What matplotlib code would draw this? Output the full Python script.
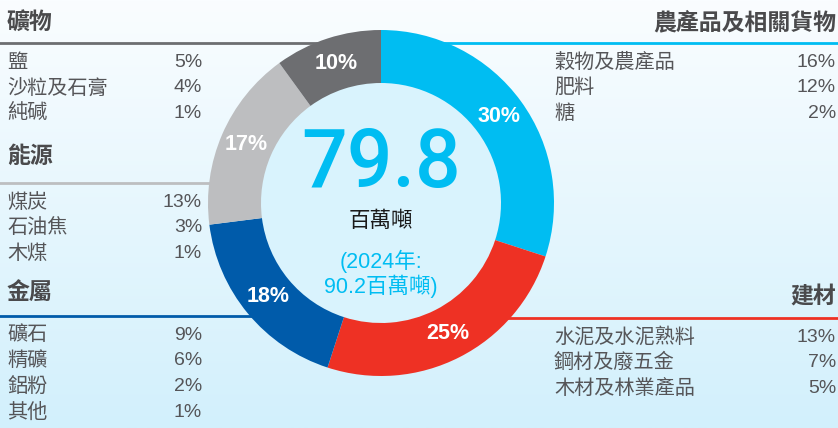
import numpy as np
import matplotlib.pyplot as plt
from matplotlib.colors import LinearSegmentedColormap
from matplotlib.patches import Circle

plt.rcParams['font.family'] = ['Noto Sans CJK TC', 'DejaVu Sans']

# donut data (clockwise from the top)
shares = [30, 25, 18, 17, 10]
share_labels = ['30%', '25%', '18%', '17%', '10%']
share_colors = ['#00BDF2', '#EE3124', '#005BAA', '#BDBEC0', '#6D6E71']

# category tables
left_groups = ['礦物', '能源', '金屬']
left_items = [['鹽', '沙粒及石膏', '純碱'],
              ['煤炭', '石油焦', '木煤'],
              ['礦石', '精礦', '鋁粉', '其他']]
left_pcts = [['5%', '4%', '1%'],
             ['13%', '3%', '1%'],
             ['9%', '6%', '2%', '1%']]
left_line_colors = ['#6D6E71', '#BDBEC0', '#005BAA']

right_groups = ['農產品及相關貨物', '建材']
right_items = [['穀物及農產品', '肥料', '糖'],
               ['水泥及水泥熟料', '鋼材及廢五金', '木材及林業產品']]
right_pcts = [['16%', '12%', '2%'],
              ['13%', '7%', '5%']]
right_line_colors = ['#00BDF2', '#EE3124']

total = '79.8'
unit = '百萬噸'
prev = '(2024年:\n90.2百萬噸)'

W, H = 838, 428
fig = plt.figure(figsize=(W / 100, H / 100), dpi=100)
ax = fig.add_axes([0, 0, 1, 1])
ax.set_xlim(0, W)
ax.set_ylim(H, 0)
ax.axis('off')

# background gradient
bg = LinearSegmentedColormap.from_list('bg', ['#FAFDFF', '#D2F0FC'])
grad = np.linspace(0, 1, 256).reshape(-1, 1)
ax.imshow(grad, cmap=bg, extent=[0, W, H, 0], aspect='auto', zorder=0)

cx, cy = 381, 203
txt_col = '#555558'
head_col = '#4A4A4C'

# left side
left_head_y = [22, 156, 292]
left_line_y = [43, 183, 316]
for g, hy, ly, lc, items, pcts in zip(left_groups, left_head_y, left_line_y,
                                      left_line_colors, left_items, left_pcts):
    ax.text(7, hy, g, fontsize=16.5, fontweight='bold', color=head_col,
            ha='left', va='center', zorder=3)
    ax.plot([0, cx], [ly, ly], color=lc, lw=2, zorder=1)
    for i, (it, p) in enumerate(zip(items, pcts)):
        y = ly + 19 + i * 25.8
        ax.text(7, y, it, fontsize=14.5, color=txt_col, ha='left', va='center', zorder=3)
        ax.text(202, y, p, fontsize=14, color=txt_col, ha='right', va='center',
                family='Liberation Sans', zorder=3)

# right side
right_head_y = [23, 296]
right_line_y = [43, 318]
for g, hy, ly, lc, items, pcts in zip(right_groups, right_head_y, right_line_y,
                                      right_line_colors, right_items, right_pcts):
    ax.text(836, hy, g, fontsize=16.5, fontweight='bold', color=head_col,
            ha='right', va='center', zorder=3)
    ax.plot([cx, W], [ly, ly], color=lc, lw=2, zorder=1)
    for i, (it, p) in enumerate(zip(items, pcts)):
        y = ly + 19 + i * 25.8
        ax.text(554, y, it, fontsize=14.5, color=txt_col, ha='left', va='center', zorder=3)
        ax.text(836, y, p, fontsize=14, color=txt_col, ha='right', va='center',
                family='Liberation Sans', zorder=3)

# donut in its own axes
R, r_in = 173, 120
pax = fig.add_axes([(cx - R) / W, (H - cy - R) / H, 2 * R / W, 2 * R / H])
wedges, _ = pax.pie(shares, colors=share_colors, startangle=90, counterclock=False,
                    radius=1, wedgeprops=dict(width=(R - r_in) / R, linewidth=0))
pax.add_patch(Circle((0, 0), r_in / R, color='#D9F3FD', zorder=0))
mid_r = (R + r_in) / 2 / R
ang = 90.0
for s, lab in zip(shares, share_labels):
    a = np.deg2rad(ang - s * 3.6 / 2)
    pax.text(mid_r * np.cos(a), mid_r * np.sin(a), lab, color='white', fontsize=15.5,
             fontweight='bold', family='Liberation Sans', ha='center', va='center')
    ang -= s * 3.6
pax.set_xlim(-1, 1)
pax.set_ylim(-1, 1)
pax.set_aspect('equal')
pax.axis('off')

# center texts (drawn on the donut axes so they sit above it)
pax.text(cx, 165, total, fontsize=58, color='#00BDF2', family='Roboto',
         fontweight='medium', ha='center', va='center', transform=ax.transData, zorder=5)
pax.text(cx, 221, unit, fontsize=15.5, color='#1A1A1A', ha='center', va='center',
         fontweight='medium', transform=ax.transData, zorder=5)
pax.text(cx, 274, prev, fontsize=15.5, color='#00BDF2', ha='center', va='center',
         linespacing=1.05, family=['Liberation Sans', 'Noto Sans CJK TC'],
         transform=ax.transData, zorder=5)

fig.savefig('out.png', dpi=100)
